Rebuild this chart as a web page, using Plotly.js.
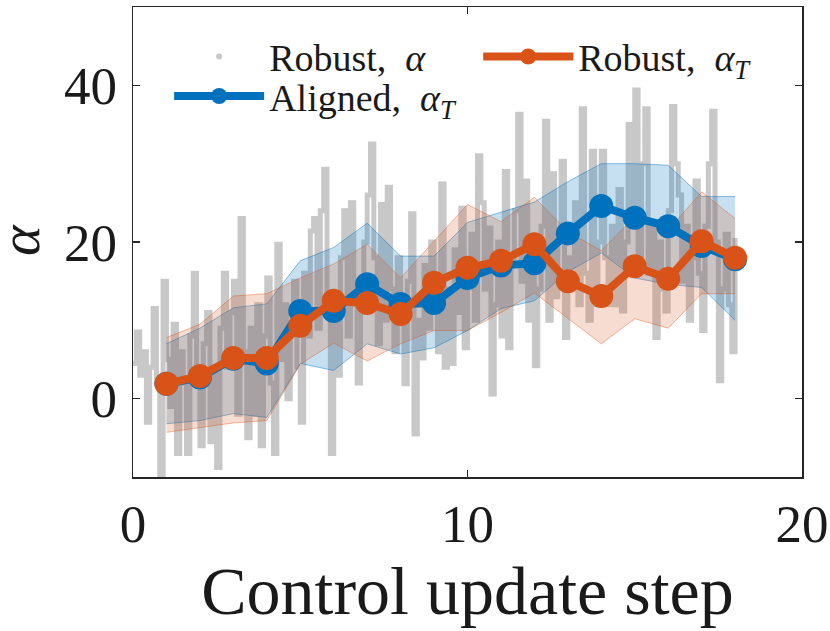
<!DOCTYPE html>
<html>
<head>
<meta charset="utf-8">
<script src="https://cdn.plot.ly/plotly-3.0.1.min.js"></script>
<style>html,body{margin:0;padding:0;background:#fff;}#chart{width:830px;height:631px;}</style>
</head>
<body>
<div id="chart"></div>
<script>
// ---- data ----
const steps = [1,2,3,4,5,6,7,8,9,10,11,12,13,14,15,16,17,18];
const alignedMean  = [1.9,2.7,5.1,4.5,11.2,11.2,14.6,12.1,12.2,15.4,17.0,17.3,21.1,24.6,23.1,22.0,19.5,17.8];
const alignedUpper = [7.0,9.0,11.6,12.1,17.6,19.3,22.4,18.2,18.2,22.5,23.8,25.1,27.7,30.0,30.0,29.8,25.8,25.8];
const alignedLower = [-3.2,-2.8,-1.9,-2.4,4.5,3.6,7.0,5.7,6.5,8.7,11.5,12.5,16.2,18.6,15.4,14.6,14.2,10.0];
const robustMean   = [1.9,2.9,5.2,5.2,9.3,12.5,12.2,10.8,14.8,16.7,17.6,19.7,15.0,13.1,16.9,15.3,20.1,18.0];
const robustUpper  = [7.8,9.5,13.1,13.4,15.4,17.2,19.7,15.4,20.1,24.8,22.6,25.7,21.3,18.9,23.2,21.5,26.4,23.0];
const robustLower  = [-4.3,-3.7,-3.1,-2.8,4.4,7.1,4.8,7.0,8.7,8.7,11.0,13.5,10.3,7.0,10.2,9.0,13.4,13.4];

// raw robust alpha signal, one sample every 0.1 control steps from 0 to 18
const rawStep = 0.1;
const rawAlpha = [
 4.5,8.5,3,6,-3,4,11.5,2,-10,15,
 5,-1,9.5,-7,6,2,-7,8,16,3,
 -6,7,11,-5.5,4,-8.8,9,16,4,11,
 15,-2,23,6,-5,9,-2,12,-6,8,
 15.4,2,-7,19.7,5,12,0,9,15,4,
 -3,16,8,21.4,23,9,24,29.3,12,-7,
 10,3,18,24,8,25,12,2,14,20,
 26,32.5,18,7,24.8,10,27,14,6,18,
 12.5,1.9,15,23.6,-4.5,10,5.2,17,9,20,
 12,6,27.4,4,14,4.5,19,11,24.3,6.5,
 15,21,10,31,25,14,21.8,0.6,12,20,
 8,29,6.5,18,24,36.3,15,27.8,10,19,
 4.2,14,22,35.4,10,28.7,13,20,30.3,7.8,
 18,14,25,12,37,16,10,31.6,12,20,
 31.6,18,12,22,12,26.7,11.2,20,35,24,
 39.4,18,30,37,16,22,7.8,20,14,11.2,
 24,37.3,30,26,15,22,10,18,27.8,16,
 8.7,22,30,36.7,20,2.3,14,21,12,6,
 20.5
];
const rawX = rawAlpha.map((_, i) => +(i * rawStep).toFixed(2));

const yLabel = '<i>α</i>';
const xLabel = 'Control update step';

const BLUE = '#0072BD', ORANGE = '#D95319', GRAY = '#C8C8C8';
const FONT = 'Liberation Serif, Times New Roman, serif';

const traces = [
  {x: rawX, y: rawAlpha, mode: 'lines', line: {color: GRAY, width: 5, shape: 'hv'}, showlegend: false, hoverinfo: 'skip'},
  {x: [null], y: [null], mode: 'markers', name: 'Robust, &nbsp;<i>α</i>', marker: {color: GRAY, size: 6}, legend: 'legend'},
  {x: steps, y: alignedLower, mode: 'lines', line: {color: 'rgba(0,114,189,0.45)', width: 1}, showlegend: false, hoverinfo: 'skip'},
  {x: steps, y: alignedUpper, mode: 'lines', fill: 'tonexty', fillcolor: 'rgba(0,114,189,0.22)', line: {color: 'rgba(0,114,189,0.45)', width: 1}, showlegend: false, hoverinfo: 'skip'},
  {x: steps, y: robustLower, mode: 'lines', line: {color: 'rgba(217,83,25,0.4)', width: 1}, showlegend: false, hoverinfo: 'skip'},
  {x: steps, y: robustUpper, mode: 'lines', fill: 'tonexty', fillcolor: 'rgba(217,83,25,0.2)', line: {color: 'rgba(217,83,25,0.4)', width: 1}, showlegend: false, hoverinfo: 'skip'},
  {x: steps, y: alignedMean, mode: 'lines+markers', name: 'Aligned, &nbsp;<i>α<sub>T</sub></i>', line: {color: BLUE, width: 8}, marker: {color: BLUE, size: 24}, legend: 'legend3'},
  {x: steps, y: robustMean, mode: 'lines+markers', name: 'Robust, &nbsp;<i>α<sub>T</sub></i>', line: {color: ORANGE, width: 8}, marker: {color: ORANGE, size: 24}, legend: 'legend2'}
];

const axisCommon = {
  showline: true, linecolor: '#262626', linewidth: 1.5, mirror: 'ticks',
  ticks: 'inside', ticklen: 7, tickwidth: 1.5, tickcolor: '#262626',
  showgrid: false, zeroline: false,
  tickfont: {family: FONT, size: 53, color: '#1a1a1a'}
};

const legendCommon = {
  orientation: 'v', xanchor: 'left', yanchor: 'middle',
  itemwidth: 90,
  font: {family: FONT, size: 38, color: '#1a1a1a'},
  bgcolor: 'rgba(0,0,0,0)', borderwidth: 0
};

const layout = {
  width: 830, height: 631,
  margin: {l: 133, r: 28, t: 7, b: 154},
  paper_bgcolor: '#fff', plot_bgcolor: '#fff',
  font: {family: FONT, color: '#1a1a1a'},
  xaxis: Object.assign({}, axisCommon, {
    range: [0, 20], tickvals: [0, 10, 20], ticktext: ['0', '10', '20'],
    ticklabelstandoff: 0,
    title: {text: xLabel, font: {family: FONT, size: 68, color: '#1a1a1a'}, standoff: 13}
  }),
  yaxis: Object.assign({}, axisCommon, {
    range: [-10, 50], tickvals: [0, 20, 40], ticktext: ['0', '20', '40'],
    ticklabelstandoff: 4
  }),
  annotations: [{
    text: yLabel, xref: 'paper', yref: 'paper', x: -0.17, y: 0.505,
    xanchor: 'center', yanchor: 'middle', textangle: -90, showarrow: false,
    height: 40, width: 40, borderpad: 0,
    font: {family: FONT, size: 58, color: '#1a1a1a'}
  }],
  legend:  Object.assign({}, legendCommon, {x: 0.054, y: 0.894}),
  legend2: Object.assign({}, legendCommon, {x: 0.516, y: 0.894}),
  legend3: Object.assign({}, legendCommon, {x: 0.054, y: 0.810}),
  showlegend: true
};

Plotly.newPlot('chart', traces, layout, {staticPlot: true, displayModeBar: false});
</script>
</body>
</html>
